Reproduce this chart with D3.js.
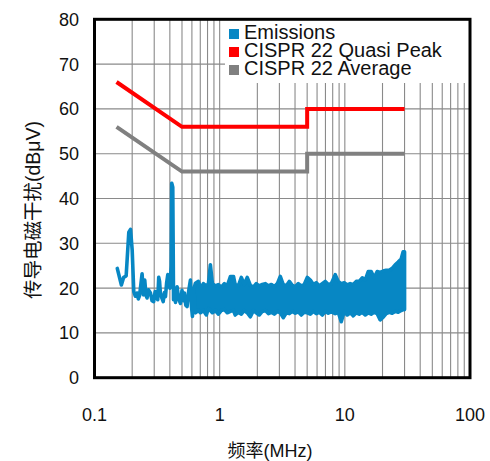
<!DOCTYPE html>
<html><head><meta charset="utf-8">
<script src="https://cdn.jsdelivr.net/npm/d3@7"></script>
<style>
html,body{margin:0;padding:0;background:#fff;}
text{font-family:"Liberation Sans",Arial,"Noto Sans CJK SC",sans-serif;fill:#111;}
</style></head>
<body>
<svg id="chart" width="490" height="461"></svg>
<script>
// ---- data ----
const xTickLabels = ["0.1", "1", "10", "100"];
const xTickValues = [0.1, 1, 10, 100];
const yTickValues = [0, 10, 20, 30, 40, 50, 60, 70, 80];

const limitFreq = [0.15, 0.5, 5, 5, 30];
const qpValues = [66, 56, 56, 60, 60];
const avgValues = [56, 46, 46, 50, 50];

const seriesNames = ["Emissions", "CISPR 22 Quasi Peak", "CISPR 22 Average"];
const seriesColors = ["#0787c4", "#ff0000", "#808080"];

// Emission trace: frequency (MHz), upper and lower envelope (dBµV)
const emFreq = [0.152,0.164,0.171,0.179,0.188,0.194,0.200,0.206,0.212,0.219,0.224,0.229,0.235,0.240,0.246,0.252,0.258,0.263,0.270,0.280,0.288,0.297,0.305,0.313,0.320,0.326,0.331,0.336,0.345,0.354,0.362,0.369,0.377,0.385,0.392,0.400,0.410,0.414,0.422,0.428,0.436,0.444,0.457,0.470,0.486,0.500,0.512,0.523,0.536,0.549,0.566,0.584,0.595,0.606,0.622,
  0.640,0.676,0.702,0.741,0.783,0.813,0.843,0.875,0.924,0.976,1.03,1.09,1.15,1.22,1.29,1.33,1.41,1.49,1.57,1.66,1.76,1.86,1.96,2.07,2.19,2.32,2.45,2.59,2.73,2.89,3.05,3.22,3.41,3.60,3.80,4.02,4.25,4.49,4.74,5.01,5.30,5.60,5.91,6.25,6.60,6.98,7.37,7.79,8.38,8.86,9.36,9.89,10.45,11.04,11.67,12.33,13.03,13.77,14.55,15.38,16.24,17.16,18.14,19.17,20.26,21.40,22.61,23.89,25.25,26.68,28.19,29.24,30.0];
const emHigh = [24.4,20.7,22.4,22.7,32.5,33.1,28.5,19.2,18.2,18.9,17.6,18.3,21.0,23.2,18.5,21.8,18.4,17.8,19.6,18.9,17.2,17.0,19.2,18.0,17.4,22.4,21.5,18.9,17.8,17.0,19.0,18.1,21.2,23.0,21.8,20.0,25.0,43.4,42.5,17.4,19.5,16.8,20.3,17.6,16.6,19.5,17.2,18.9,16.2,15.9,19.4,21.8,16.0,13.7,19.8,
  21.1,21.5,20.0,21.0,20.5,21.0,25.2,21.0,20.5,20.8,20.2,21.0,20.5,22.6,22.6,20.8,20.5,22.4,20.8,22.4,20.6,20.2,21.0,20.5,20.8,21.0,20.5,20.8,20.3,21.0,22.6,20.8,20.5,21.5,20.6,20.3,21.0,20.5,20.8,22.4,21.8,20.8,21.2,20.5,21.0,21.5,20.8,21.0,23.0,21.5,21.0,21.2,20.7,21.0,20.8,21.5,21.5,22.3,21.8,23.7,23.7,22.3,23.7,23.5,23.8,24.0,24.0,24.4,25.2,25.8,26.5,28.1,28.1];
const emLow = [24.4,20.7,22.4,22.7,32.5,33.1,28.5,19.2,18.2,18.9,17.6,18.3,21.0,23.2,18.5,21.8,18.4,17.8,19.6,18.9,17.2,17.0,19.2,18.0,17.4,22.4,21.5,18.9,17.8,17.0,19.0,18.1,21.2,23.0,21.8,20.0,25.0,43.4,42.5,17.4,19.5,16.8,20.3,17.6,16.6,19.5,17.2,18.9,16.2,15.9,19.4,21.8,16.0,13.7,19.8,
  14.5,15.0,14.5,15.0,14.0,15.5,15.0,14.5,15.0,14.2,15.0,15.2,14.5,14.8,15.0,14.0,14.6,14.2,15.0,14.5,13.6,15.0,14.5,14.0,14.8,15.0,14.3,14.6,14.2,14.8,14.5,13.4,14.5,14.3,14.8,14.4,14.7,14.0,14.6,14.5,14.2,14.8,14.3,14.6,14.0,14.8,14.4,14.7,14.3,14.6,12.5,14.8,14.0,14.5,13.8,14.5,14.2,14.6,14.0,14.5,14.2,14.6,14.3,12.9,13.5,14.3,14.6,14.4,14.8,14.6,15.0,15.2,15.2];

// ---- chart ----
const svg = d3.select("#chart");
const L = 94.5, R = 470, T = 19.3, B = 377.7;
const x = d3.scaleLog().domain([0.1, 100]).range([L, R]);
const y = d3.scaleLinear().domain([0, 80]).range([B, T]);

// grid
const grid = svg.append("g");
const minor = x.ticks().filter(v => v > 0.1 + 1e-9 && v < 100 - 1e-9);
grid.selectAll("line.v").data(minor).join("line")
  .attr("x1", d => x(d)).attr("x2", d => x(d)).attr("y1", T).attr("y2", B)
  .attr("stroke", "#8a8a8a").attr("stroke-width", 1.1);
grid.selectAll("line.h").data(yTickValues.filter(v => v > 0 && v < 80)).join("line")
  .attr("x1", L).attr("x2", R).attr("y1", d => y(d)).attr("y2", d => y(d))
  .attr("stroke", "#8a8a8a").attr("stroke-width", 1.1);

// legend background
svg.append("rect").attr("x", 225).attr("y", T).attr("width", R - 225).attr("height", 83 - T).attr("fill", "#fff");

// emissions
const emData = emFreq.map((f, i) => ({f, hi: emHigh[i], lo: emLow[i]}));
svg.append("path").datum(emData)
  .attr("d", d3.area().x(d => x(d.f)).y0(d => y(d.lo)).y1(d => y(d.hi)))
  .attr("fill", seriesColors[0]).attr("stroke", seriesColors[0])
  .attr("stroke-width", 3.6).attr("stroke-linejoin", "round");

// limits
const line = d3.line().x(d => x(d[0])).y(d => y(d[1]));
svg.append("path").datum(limitFreq.map((f, i) => [f, avgValues[i]]))
  .attr("d", line).attr("fill", "none").attr("stroke", seriesColors[2]).attr("stroke-width", 4);
svg.append("path").datum(limitFreq.map((f, i) => [f, qpValues[i]]))
  .attr("d", line).attr("fill", "none").attr("stroke", seriesColors[1]).attr("stroke-width", 4);

// frame
svg.append("rect").attr("x", L).attr("y", T).attr("width", R - L).attr("height", B - T)
  .attr("fill", "none").attr("stroke", "#000").attr("stroke-width", 3);

// y tick labels
svg.append("g").selectAll("text").data(yTickValues).join("text")
  .attr("x", 79).attr("y", d => y(d)).attr("dy", "0.36em")
  .attr("text-anchor", "end").attr("font-size", 18).text(d => d);

// x tick labels
svg.append("g").selectAll("text").data(xTickValues).join("text")
  .attr("x", d => x(d)).attr("y", 421)
  .attr("text-anchor", "middle").attr("font-size", 18).text((d, i) => xTickLabels[i]);

// axis titles
svg.append("text").attr("x", 270).attr("y", 457).attr("text-anchor", "middle")
  .attr("font-size", 18).text("频率(MHz)");
svg.append("text").attr("transform", "translate(40,210) rotate(-90)")
  .attr("text-anchor", "middle").attr("font-size", 19.5).text("传导电磁干扰(dBμV)");

// legend
const lg = svg.append("g");
seriesNames.forEach((name, i) => {
  const by = 39 + i * 18;
  lg.append("rect").attr("x", 229).attr("y", by - 10).attr("width", 10).attr("height", 10).attr("fill", seriesColors[i]);
  lg.append("text").attr("x", 244).attr("y", by).attr("font-size", 20).text(name);
});
</script>
</body></html>
